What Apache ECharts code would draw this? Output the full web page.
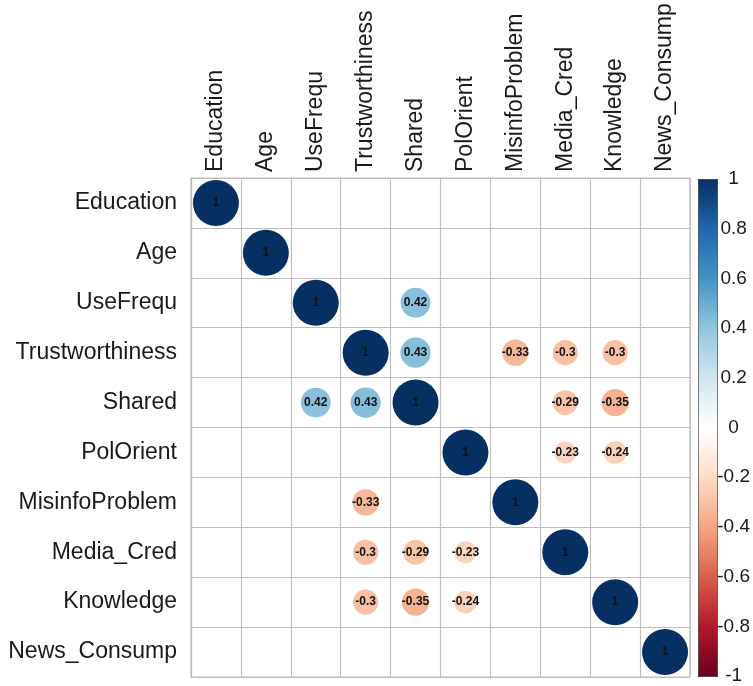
<!DOCTYPE html>
<html>
<head>
<meta charset="utf-8">
<script src="https://cdn.jsdelivr.net/npm/echarts@6/dist/echarts.min.js"></script>
<style>
html,body{margin:0;padding:0;background:#fff;}
#chart{width:753px;height:686px;}
</style>
</head>
<body>
<div id="chart"></div>
<script>
var variables = ['Education','Age','UseFrequ','Trustworthiness','Shared','PolOrient','MisinfoProblem','Media_Cred','Knowledge','News_Consump'];
// rows = variables (top to bottom), columns = variables (left to right); null = blank cell
var corr = [
  [1, null, null, null, null, null, null, null, null, null],
  [null, 1, null, null, null, null, null, null, null, null],
  [null, null, 1, null, 0.42, null, null, null, null, null],
  [null, null, null, 1, 0.43, null, -0.33, -0.3, -0.3, null],
  [null, null, 0.42, 0.43, 1, null, null, -0.29, -0.35, null],
  [null, null, null, null, null, 1, null, -0.23, -0.24, null],
  [null, null, null, -0.33, null, null, 1, null, null, null],
  [null, null, null, -0.3, -0.29, -0.23, null, 1, null, null],
  [null, null, null, -0.3, -0.35, -0.24, null, null, 1, null],
  [null, null, null, null, null, null, null, null, null, 1]
];
var colorTicks = [-1, -0.8, -0.6, -0.4, -0.2, 0, 0.2, 0.4, 0.6, 0.8, 1];
var palette = ['#67001F','#B2182B','#D6604D','#F4A582','#FDDBC7','#FFFFFF','#D1E5F0','#92C5DE','#4393C3','#2166AC','#053061'];

var points = [];
corr.forEach(function(row, i){
  row.forEach(function(v, j){
    if (v !== null) points.push([variables[j], variables[i], v]);
  });
});

var chart = echarts.init(document.getElementById('chart'));
var gridColor = '#BEBEBE';
var labelFont = 'Liberation Sans, Arial, sans-serif';
chart.setOption({
  backgroundColor: '#ffffff',
  animation: false,
  grid: [
    {left: 191, top: 178, width: 499, height: 499, show: true, borderColor: gridColor, borderWidth: 1.2, containLabel: false},
    {left: 698, top: 179, width: 19, height: 497, show: false}
  ],
  xAxis: [
    {
      type: 'category', gridIndex: 0, position: 'top', data: variables,
      axisLine: {show: true, lineStyle: {color: gridColor, width: 1.2}},
      axisTick: {show: false},
      splitLine: {show: true, interval: 0, lineStyle: {color: gridColor, width: 1.2}},
      axisLabel: {interval: 0, rotate: -90, margin: 6, fontSize: 23, color: '#1a1a1a', fontFamily: labelFont}
    },
    {type: 'value', gridIndex: 1, show: false}
  ],
  yAxis: [
    {
      type: 'category', gridIndex: 0, inverse: true, data: variables,
      axisLine: {show: true, lineStyle: {color: gridColor, width: 1.2}},
      axisTick: {show: false},
      splitLine: {show: true, interval: 0, lineStyle: {color: gridColor, width: 1.2}},
      axisLabel: {interval: 0, margin: 14, fontSize: 23, color: '#1a1a1a', fontFamily: labelFont}
    },
    {
      type: 'value', gridIndex: 1, position: 'right', min: -1, max: 1, interval: 0.2,
      axisLine: {show: false},
      splitLine: {show: false},
      axisTick: {show: true, length: 3, lineStyle: {color: '#333', width: 1}},
      axisLabel: {
        margin: 20, align: 'center', fontSize: 19, color: '#1a1a1a', fontFamily: labelFont,
        formatter: function(v){ return String(Math.round(v * 10) / 10); }
      }
    }
  ],
  visualMap: {
    type: 'continuous', min: -1, max: 1, dimension: 2, seriesIndex: 0,
    calculable: false, show: true, orient: 'vertical',
    left: 698, top: 179, itemWidth: 19, itemHeight: 497, padding: 0,
    borderColor: '#333', borderWidth: 1,
    text: null, hoverLink: false,
    inRange: {color: palette}
  },
  series: [
    {
      type: 'scatter', xAxisIndex: 0, yAxisIndex: 0, data: points,
      symbol: 'circle',
      symbolSize: function(val){ return 46 * Math.sqrt(Math.abs(val[2])); },
      itemStyle: {opacity: 1},
      label: {
        show: true, position: 'inside', fontSize: 12, fontWeight: 'bold', color: '#111',
        fontFamily: labelFont,
        formatter: function(p){ return String(p.value[2]); }
      },
      z: 5
    }
  ]
});
</script>
</body>
</html>
